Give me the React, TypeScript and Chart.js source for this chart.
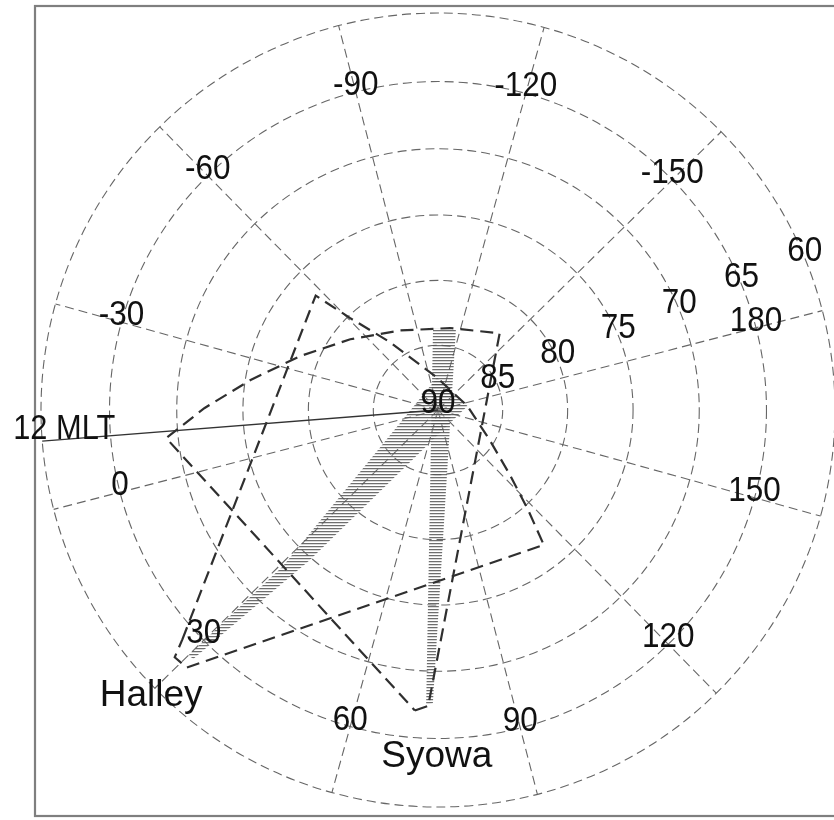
import React, { useEffect, useRef } from "react";
import { Chart, registerables } from "chart.js";

Chart.register(...registerables);

// Graticule of the southern polar map
const RING_LATS = [-60, -65, -70, -75, -80, -85];
const MERIDIAN_LONS = [-150, -120, -90, -60, -30, 0, 30, 60, 90, 120, 150, 180];
const MERIDIAN_LABELS = ["-150", "-120", "-90", "-60", "-30", "0", "30", "60", "90", "120", "150", "180"];
const MERIDIAN_LABEL_LAT = -65;
const LAT_LABEL_LATS = [-60, -65, -70, -75, -80, -85, -90];
const LAT_LABELS = ["60", "65", "70", "75", "80", "85", "90"];
const LAT_LABEL_LON = -172;

// Noon magnetic local time meridian
const MLT_LINE_LATS = [-90, -60];
const MLT_LINE_LONS = [-10, -10];
const MLT_LABEL = "12 MLT";
const MLT_LABEL_LAT = -61.6;
const MLT_LABEL_LON = -10;

// Halley radar field of view (closed outline)
const HALLEY_FOV_LATS = [-63.9, -77.1, -80.2, -83.6, -87.5, -87.7, -85.4, -82.5, -79.6, -76.8, -62.7, -62.6, -63.9];
const HALLEY_FOV_LONS = [27.4, -57.6, -60.8, -69.3, -102.8, 173.1, 135.5, 123.4, 117.5, 113.6, 31.2, 28.7, 27.4];

// Halley beam
const HALLEY_BEAM_LATS = [-63.4, -73.1, -87.5, -87.7, -74.8, -63.5];
const HALLEY_BEAM_LONS = [30.0, 30.7, -102.8, 173.1, 35.0, 31.0];

// Syowa radar field of view (closed outline)
const SYOWA_FOV_LATS = [-67.0, -67.4, -82.4, -83.6, -83.2, -81.3, -78.6, -75.4, -72.1, -69.1, -67.0];
const SYOWA_FOV_LONS = [71.1, 73.6, -143.3, -112.8, -79.1, -53.4, -35.9, -23.6, -15.0, -8.6, 71.1];

// Syowa beam
const SYOWA_BEAM_LATS = [-67.5, -67.6, -83.6, -83.7];
const SYOWA_BEAM_LONS = [73.2, 74.5, -117.0, -101.0];

// Station names
const STATION_NAMES = ["Halley", "Syowa"];
const STATION_LABEL_LATS = [-58.9, -62.9];
const STATION_LABEL_LONS = [31.4, 75.3];

// Stereographic projection: ring 60 maps to radius 30, map rotated so lon 180 sits just above 3 o'clock
const T15 = Math.tan((15 * Math.PI) / 180);
const ROTATION = 194.5;
function radiusOf(lat: number) {
  const colat = 90 + lat;
  return (30 * Math.tan((colat * Math.PI) / 360)) / T15;
}
function project(lat: number, lon: number) {
  const r = radiusOf(lat);
  const t = ((lon + ROTATION) * Math.PI) / 180;
  return { x: r * Math.cos(t), y: r * Math.sin(t) };
}
function toPoints(lats: number[], lons: number[]) {
  return lats.map((lat, i) => project(lat, lons[i]));
}

const NUM_FONT = '35px "Liberation Sans", Arial, sans-serif';
const NAME_FONT = '37px "Liberation Sans", Arial, sans-serif';

function drawText(ctx: CanvasRenderingContext2D, text: string, px: number, py: number, font: string, sx: number) {
  ctx.save();
  ctx.translate(px, py);
  ctx.scale(sx, 1);
  ctx.font = font;
  ctx.fillText(text, 0, 0);
  ctx.restore();
}

const mapPlugin = {
  id: "polarMap",
  beforeDatasetsDraw(chart: any) {
    const { ctx, scales } = chart;
    const xs = scales.x;
    const ys = scales.y;
    const cx = xs.getPixelForValue(0);
    const cy = ys.getPixelForValue(0);
    ctx.save();
    // outer frame
    ctx.setLineDash([]);
    ctx.strokeStyle = "#7f7f7f";
    ctx.lineWidth = 2.2;
    ctx.strokeRect(35, 6, 806, 810);
    // latitude circles
    ctx.strokeStyle = "#666666";
    ctx.lineWidth = 1.1;
    ctx.setLineDash([9, 5]);
    for (const lat of RING_LATS) {
      const r = xs.getPixelForValue(radiusOf(lat)) - cx;
      ctx.beginPath();
      ctx.arc(cx, cy, r, 0, Math.PI * 2);
      ctx.stroke();
    }
    // meridians
    const edgeLat = Math.max(...RING_LATS);
    for (const lon of MERIDIAN_LONS) {
      const p = project(edgeLat, lon);
      ctx.beginPath();
      ctx.moveTo(cx, cy);
      ctx.lineTo(xs.getPixelForValue(p.x), ys.getPixelForValue(p.y));
      ctx.stroke();
    }
    ctx.restore();
  },
  afterDatasetsDraw(chart: any) {
    const { ctx, scales } = chart;
    const xs = scales.x;
    const ys = scales.y;
    const px = (p: { x: number; y: number }) => [xs.getPixelForValue(p.x), ys.getPixelForValue(p.y)];
    ctx.save();
    ctx.fillStyle = "#111111";
    ctx.textAlign = "center";
    ctx.textBaseline = "alphabetic";
    MERIDIAN_LONS.forEach((lon, i) => {
      const [x, y] = px(project(MERIDIAN_LABEL_LAT, lon));
      drawText(ctx, MERIDIAN_LABELS[i], x, y + 3, NUM_FONT, 0.9);
    });
    LAT_LABEL_LATS.forEach((lat, i) => {
      const [x, y] = px(project(lat, LAT_LABEL_LON));
      drawText(ctx, LAT_LABELS[i], x, y + 3, NUM_FONT, 0.9);
    });
    {
      const [x, y] = px(project(MLT_LABEL_LAT, MLT_LABEL_LON));
      drawText(ctx, MLT_LABEL, x, y, NUM_FONT, 0.88);
    }
    STATION_NAMES.forEach((name, i) => {
      const [x, y] = px(project(STATION_LABEL_LATS[i], STATION_LABEL_LONS[i]));
      drawText(ctx, name, x, y, NAME_FONT, 1);
    });
    ctx.restore();
  },
};

function makeHatch(ctx: CanvasRenderingContext2D) {
  const pc = document.createElement("canvas");
  pc.width = 4;
  pc.height = 3;
  const p = pc.getContext("2d")!;
  p.fillStyle = "rgba(85,85,85,0.85)";
  p.fillRect(0, 0, 4, 1);
  p.fillStyle = "rgba(160,160,160,0.4)";
  p.fillRect(0, 1, 4, 1);
  return ctx.createPattern(pc, "repeat");
}

export default function App() {
  const canvasRef = useRef<HTMLCanvasElement | null>(null);

  useEffect(() => {
    const canvas = canvasRef.current;
    if (!canvas) return;
    const ctx = canvas.getContext("2d")!;
    const hatch = makeHatch(ctx);

    const chart = new Chart(ctx, {
      type: "scatter",
      data: {
        datasets: [
          {
            label: "12 MLT",
            data: toPoints(MLT_LINE_LATS, MLT_LINE_LONS),
            showLine: true,
            borderColor: "#333333",
            borderWidth: 1.4,
            pointRadius: 0,
            order: 1,
          },
          {
            label: "Halley FOV",
            data: toPoints(HALLEY_FOV_LATS, HALLEY_FOV_LONS),
            showLine: true,
            borderColor: "#2f2f2f",
            borderWidth: 2.2,
            borderDash: [13, 7],
            pointRadius: 0,
            order: 2,
          },
          {
            label: "Syowa FOV",
            data: toPoints(SYOWA_FOV_LATS, SYOWA_FOV_LONS),
            showLine: true,
            borderColor: "#2f2f2f",
            borderWidth: 2.2,
            borderDash: [13, 7],
            pointRadius: 0,
            order: 2,
          },
          {
            label: "Halley beam",
            data: toPoints(HALLEY_BEAM_LATS, HALLEY_BEAM_LONS),
            showLine: true,
            fill: "shape",
            backgroundColor: hatch as any,
            borderWidth: 0,
            borderColor: "rgba(0,0,0,0)",
            pointRadius: 0,
            order: 3,
          },
          {
            label: "Syowa beam",
            data: toPoints(SYOWA_BEAM_LATS, SYOWA_BEAM_LONS),
            showLine: true,
            fill: "shape",
            backgroundColor: hatch as any,
            borderWidth: 0,
            borderColor: "rgba(0,0,0,0)",
            pointRadius: 0,
            order: 3,
          },
        ],
      },
      options: {
        animation: false,
        responsive: false,
        events: [],
        layout: { padding: 0 },
        plugins: {
          legend: { display: false },
          title: { display: false },
          tooltip: { enabled: false },
        },
        scales: {
          x: { type: "linear", display: false, min: -33.098, max: 29.924 },
          y: { type: "linear", display: false, min: -30.982, max: 30.982 },
        },
      },
      plugins: [mapPlugin],
    });

    return () => chart.destroy();
  }, []);

  return (
    <div style={{ position: "absolute", left: 0, top: 0, width: 834, height: 820, background: "#ffffff" }}>
      <canvas ref={canvasRef} width={834} height={820} style={{ display: "block" }} />
    </div>
  );
}
